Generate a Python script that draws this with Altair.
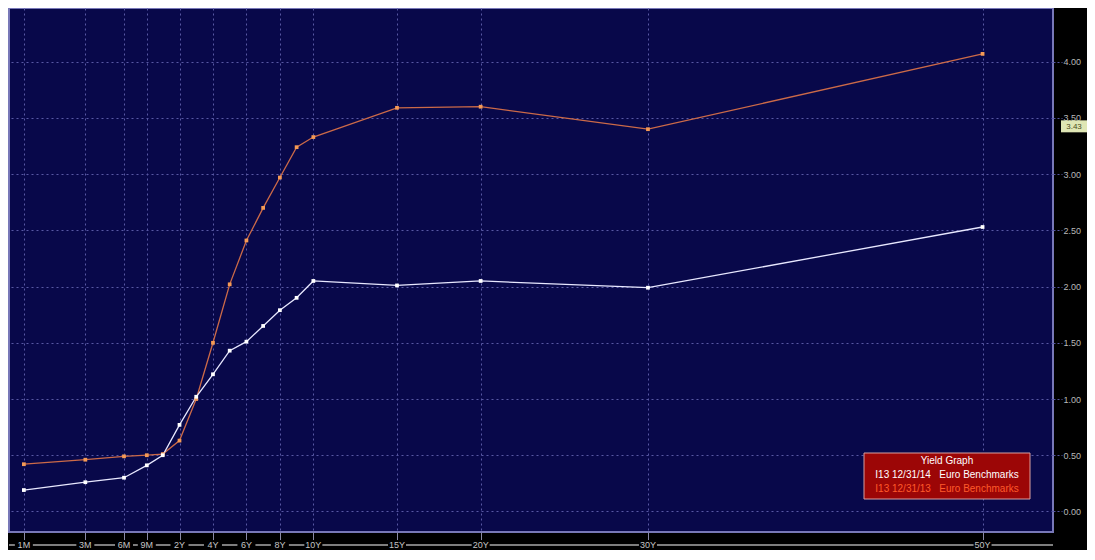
import altair as alt
import pandas as pd

# ---------------- data ----------------
tenors = ["1M", "3M", "6M", "9M", "1Y", "2Y", "3Y", "4Y", "5Y", "6Y", "7Y",
          "8Y", "9Y", "10Y", "15Y", "20Y", "30Y", "50Y"]
years = [1 / 12, 0.25, 0.5, 0.75, 1, 2, 3, 4, 5, 6, 7, 8, 9, 10, 15, 20, 30, 50]
yield_2014 = [0.19, 0.26, 0.30, 0.41, 0.50, 0.77, 1.02, 1.22, 1.43, 1.51, 1.65,
              1.79, 1.90, 2.05, 2.01, 2.05, 1.99, 2.53]
yield_2013 = [0.42, 0.46, 0.49, 0.50, 0.51, 0.63, 1.00, 1.50, 2.02, 2.41, 2.70,
              2.97, 3.24, 3.33, 3.59, 3.60, 3.40, 4.07]

tick_years = [1 / 12, 0.25, 0.5, 0.75, 2, 4, 6, 8, 10, 15, 20, 30, 50]
tick_labels = ["1M", "3M", "6M", "9M", "2Y", "4Y", "6Y", "8Y", "10Y", "15Y",
               "20Y", "30Y", "50Y"]
y_ticks = [0.0, 0.5, 1.0, 1.5, 2.0, 2.5, 3.0, 3.5, 4.0]
marker_value = [3.43]
marker_label = ["3.43"]
legend_title = "Yield Graph"
legend_line_2014 = "I13 12/31/14\u00a0\u00a0\u00a0Euro Benchmarks"
legend_line_2013 = "I13 12/31/13\u00a0\u00a0\u00a0Euro Benchmarks"

# ---------------- layout / style ----------------
W, H = 1044, 524
k = W / 1053.0
FONT = "Liberation Sans"
NAVY = "#08084a"
GRID = "#5858a4"
WHITE_LINE = "#e8e8ff"
ORANGE_LINE = "#cc6a48"
ORANGE_PT = "#f59a55"

df = pd.DataFrame({"tenor": tenors, "years": years,
                   "y2014": yield_2014, "y2013": yield_2013})
df_ticks = pd.DataFrame({"tick_year": tick_years, "tick_label": tick_labels})
df_marker = pd.DataFrame({"value": marker_value, "label": marker_label})
one = pd.DataFrame({"a": [0]})

x_scale = alt.Scale(domain=[0, 1 / 12, 0.25, 0.5, 0.75, 1, 54.21],
                    range=[0, 15 * k, 77 * k, 116 * k, 139 * k, 155.1 * k, 1053 * k],
                    nice=False, zero=False)
y_scale = alt.Scale(domain=[-0.183, 4.478], nice=False, zero=False)

x_axis = alt.Axis(values=tick_years, labels=False, grid=True, gridColor=GRID,
                  gridDash=[2, 3], gridWidth=1, ticks=True, tickSize=13,
                  tickColor="#8a8aa8", domain=False, title=None)
y_axis = alt.Axis(orient="right", values=y_ticks, format=".2f", grid=True,
                  gridColor=GRID, gridDash=[2, 3], gridWidth=1, ticks=True,
                  tickSize=9, tickColor=GRID, tickDash=[2, 2], domain=False,
                  labelColor="#b8b8b8", labelFont=FONT, labelFontSize=9,
                  labelPadding=1, title=None)

X = alt.X("years:Q", scale=x_scale, axis=x_axis)

line13 = alt.Chart(df).mark_line(color=ORANGE_LINE, strokeWidth=1.3).encode(
    x=X, y=alt.Y("y2013:Q", scale=y_scale, axis=y_axis))
pts13 = alt.Chart(df).mark_square(size=14, color=ORANGE_PT, opacity=1).encode(
    x=X, y=alt.Y("y2013:Q", scale=y_scale, axis=y_axis))
line14 = alt.Chart(df).mark_line(color=WHITE_LINE, strokeWidth=1.3).encode(
    x=X, y=alt.Y("y2014:Q", scale=y_scale, axis=y_axis))
pts14 = alt.Chart(df).mark_square(size=14, color="#ffffff", opacity=1).encode(
    x=X, y=alt.Y("y2014:Q", scale=y_scale, axis=y_axis))

# bottom tenor labels sitting on a grey baseline
XT = alt.X("tick_year:Q", scale=x_scale, axis=x_axis)
base_rule = alt.Chart(one).mark_rule(color="#a8a8a8", strokeWidth=1.5).encode(
    x=alt.value(0), x2=alt.value(W), y=alt.value(H + 13))
label_bg = alt.Chart(df_ticks).mark_point(
    shape="M-1,-0.55L1,-0.55L1,0.55L-1,0.55Z", filled=True, color="#000000",
    size=324, opacity=1, strokeWidth=0).encode(x=XT, y=alt.value(H + 13))
label_txt = alt.Chart(df_ticks).mark_text(
    font=FONT, fontSize=9, color="#c4c4c4", align="center",
    baseline="middle").encode(x=XT, y=alt.value(H + 13), text="tick_label:N")

# current-value marker on the right axis
marker_bg = alt.Chart(df_marker).mark_point(
    shape="M-1,-0.42L1,-0.42L1,0.5L-1,0.5Z", filled=True, color="#dfe6b4",
    size=676, opacity=1, strokeWidth=0).encode(
    x=alt.value(W + 21), y=alt.Y("value:Q", scale=y_scale, axis=y_axis))
marker_txt = alt.Chart(df_marker).mark_text(
    font=FONT, fontSize=8, color="#4a4a20", align="center",
    baseline="middle", dy=1.5).encode(
    x=alt.value(W + 21), y=alt.Y("value:Q", scale=y_scale, axis=y_axis),
    text="label:N")

# legend box
leg_box = alt.Chart(one).mark_rect(fill="#9c0606", stroke="#d8a0a0",
                                   strokeWidth=1).encode(
    x=alt.value(855), x2=alt.value(1021), y=alt.value(445), y2=alt.value(491))
leg_t1 = alt.Chart(one).mark_text(text=legend_title, font=FONT, fontSize=10,
                                  color="#ffffff", align="center",
                                  baseline="middle").encode(
    x=alt.value(938), y=alt.value(453))
leg_t2 = alt.Chart(one).mark_text(text=legend_line_2014, font=FONT, fontSize=10,
                                  color="#ffffff", align="center",
                                  baseline="middle").encode(
    x=alt.value(938), y=alt.value(467))
leg_t3 = alt.Chart(one).mark_text(text=legend_line_2013, font=FONT, fontSize=10,
                                  color="#ff5a2a", align="center",
                                  baseline="middle").encode(
    x=alt.value(938), y=alt.value(481))

chart = alt.layer(
    line13, line14, pts13, pts14,
    base_rule, label_bg, label_txt,
    marker_bg, marker_txt,
    leg_box, leg_t1, leg_t2, leg_t3,
).properties(
    width=W, height=H, padding=0, background="#000000"
).configure_view(
    fill=NAVY, stroke="#7878b8", strokeWidth=2
)

chart.save("out.html", embed_options={"renderer": "svg", "actions": False})
